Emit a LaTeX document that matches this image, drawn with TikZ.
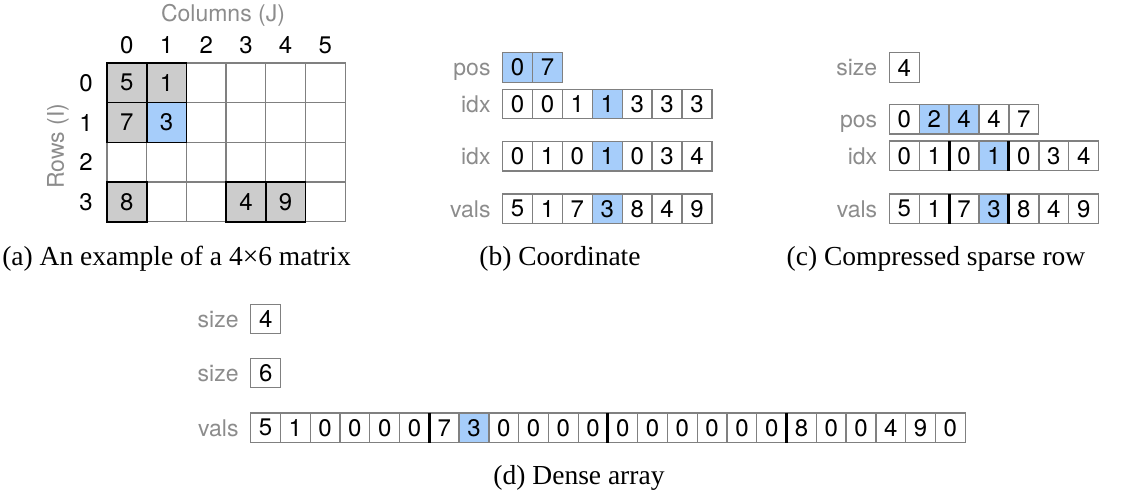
\documentclass[tikz,border=0pt]{standalone}
\usepackage{fontspec}
\setmainfont{Liberation Serif}
\newfontfamily\cellfont{TeX Gyre Heros}
\usetikzlibrary{positioning}

\definecolor{gridgray}{RGB}{128,128,128}
\definecolor{labelgray}{RGB}{140,140,140}
\definecolor{nzgray}{RGB}{204,204,204}
\definecolor{hlblue}{RGB}{166,205,250}

\begin{document}
\begin{tikzpicture}[x=1pt,y=-1pt]
\tikzset{
  cell/.style={rectangle,draw=gridgray,line width=1.3pt,minimum width=29.8pt,minimum height=29.6pt,inner sep=0pt,outer sep=0pt,font=\cellfont\fontsize{24}{24}\selectfont},
  hl/.style={fill=hlblue},
  mcell/.style={cell,minimum width=39.7pt,minimum height=39.7pt},
  nzcell/.style={mcell,draw=black,line width=1.6pt},
  arrlabel/.style={inner sep=0pt,text=labelgray,font=\cellfont\fontsize{23}{23}\selectfont,text height=17pt,text depth=0pt},
  axislabel/.style={inner sep=0pt,font=\cellfont\fontsize{24}{24}\selectfont},
  divider/.style={draw=black,line width=3pt},
  caption/.style={anchor=base,inner sep=0pt,font=\fontsize{27.5}{30}\selectfont}
}
\useasboundingbox (0,0) rectangle (1130,492);

% (a) the matrix
\node[axislabel,text=labelgray,font=\cellfont\fontsize{23}{23}\selectfont] (n_cols) at (223,15) {Columns (J)};
\node[axislabel,text=labelgray,font=\cellfont\fontsize{23}{23}\selectfont,rotate=90] (n_rows) at (58,146) {Rows (I)};
\foreach \c in {0,...,5}
  \node[axislabel] (n_col\c) at ({126.85+39.7*\c},45) {\c};
\foreach \r in {0,...,3}
  \node[axislabel] (n_row\r) at (86,{82.85+39.7*\r}) {\r};
\foreach \r in {0,...,3}
  \foreach \c in {0,...,5}
    \node[mcell] (n_m\r\c) at ({126.85+39.7*\c},{82.85+39.7*\r}) {};
\foreach \r/\c/\v/\f in {0/0/5/nzgray,0/1/1/nzgray,1/0/7/nzgray,1/1/3/hlblue,3/0/8/nzgray,3/3/4/nzgray,3/4/9/nzgray}
  \node[nzcell,fill=\f] (n_nz\r\c) at (n_m\r\c) {\v};
\node[caption] (n_capa) at (176.5,265.5) {(a) An example of a 4×6 matrix};

% (b) coordinate
\foreach \v/\s [count=\i from 0] in {0/hl,7/hl}
  \node[cell,\s] (n_bpos\i) at ({517.6+29.9*\i},67.5) {\v};
\foreach \v/\s [count=\i from 0] in {0/,0/,1/,1/hl,3/,3/,3/}
  \node[cell,\s] (n_bidxa\i) at ({517.6+29.9*\i},104) {\v};
\foreach \v/\s [count=\i from 0] in {0/,1/,0/,1/hl,0/,3/,4/}
  \node[cell,\s] (n_bidxb\i) at ({517.6+29.9*\i},156.3) {\v};
\foreach \v/\s [count=\i from 0] in {5/,1/,7/,3/hl,8/,4/,9/}
  \node[cell,\s] (n_bvals\i) at ({517.6+29.9*\i},208.7) {\v};
\node[arrlabel,left=12pt of n_bpos0] (n_bposl) {pos};
\node[arrlabel,left=12pt of n_bidxa0] (n_bidxal) {idx};
\node[arrlabel,left=12pt of n_bidxb0] (n_bidxbl) {idx};
\node[arrlabel,left=12pt of n_bvals0] (n_bvalsl) {vals};
\node[caption] (n_capb) at (560,265.5) {(b) Coordinate};

% (c) compressed sparse row
\node[cell] (n_csize) at (904.3,67.5) {4};
\foreach \v/\s [count=\i from 0] in {0/,2/hl,4/hl,4/,7/}
  \node[cell,\s] (n_cpos\i) at ({904.3+29.9*\i},119.2) {\v};
\foreach \v/\s [count=\i from 0] in {0/,1/,0/,1/hl,0/,3/,4/}
  \node[cell,\s] (n_cidx\i) at ({904.3+29.9*\i},155.9) {\v};
\foreach \v/\s [count=\i from 0] in {5/,1/,7/,3/hl,8/,4/,9/}
  \node[cell,\s] (n_cvals\i) at ({904.3+29.9*\i},208.7) {\v};
\foreach \i in {1,3} {
  \draw[divider] (n_cidx\i.north east) -- (n_cidx\i.south east);
  \draw[divider] (n_cvals\i.north east) -- (n_cvals\i.south east);
}
\node[arrlabel,left=12pt of n_csize] (n_csizel) {size};
\node[arrlabel,left=12pt of n_cpos0] (n_cposl) {pos};
\node[arrlabel,left=12pt of n_cidx0] (n_cidxl) {idx};
\node[arrlabel,left=12pt of n_cvals0] (n_cvalsl) {vals};
\node[caption] (n_capc) at (936,265.5) {(c) Compressed sparse row};

% (d) dense array
\node[cell] (n_dsizea) at (265.7,319) {4};
\node[cell] (n_dsizeb) at (265.7,373) {6};
\foreach \v/\s [count=\i from 0] in {5/,1/,0/,0/,0/,0/,7/,3/hl,0/,0/,0/,0/,0/,0/,0/,0/,0/,0/,8/,0/,0/,4/,9/,0/}
  \node[cell,minimum width=29.77pt,\s] (n_dvals\i) at ({265.6+29.77*\i},427.7) {\v};
\foreach \i in {5,11,17}
  \draw[divider] (n_dvals\i.north east) -- (n_dvals\i.south east);
\node[arrlabel,left=12pt of n_dsizea] (n_dsizeal) {size};
\node[arrlabel,left=12pt of n_dsizeb] (n_dsizebl) {size};
\node[arrlabel,left=12pt of n_dvals0] (n_dvalsl) {vals};
\node[caption] (n_capd) at (579,484) {(d) Dense array};
\end{tikzpicture}
\end{document}
